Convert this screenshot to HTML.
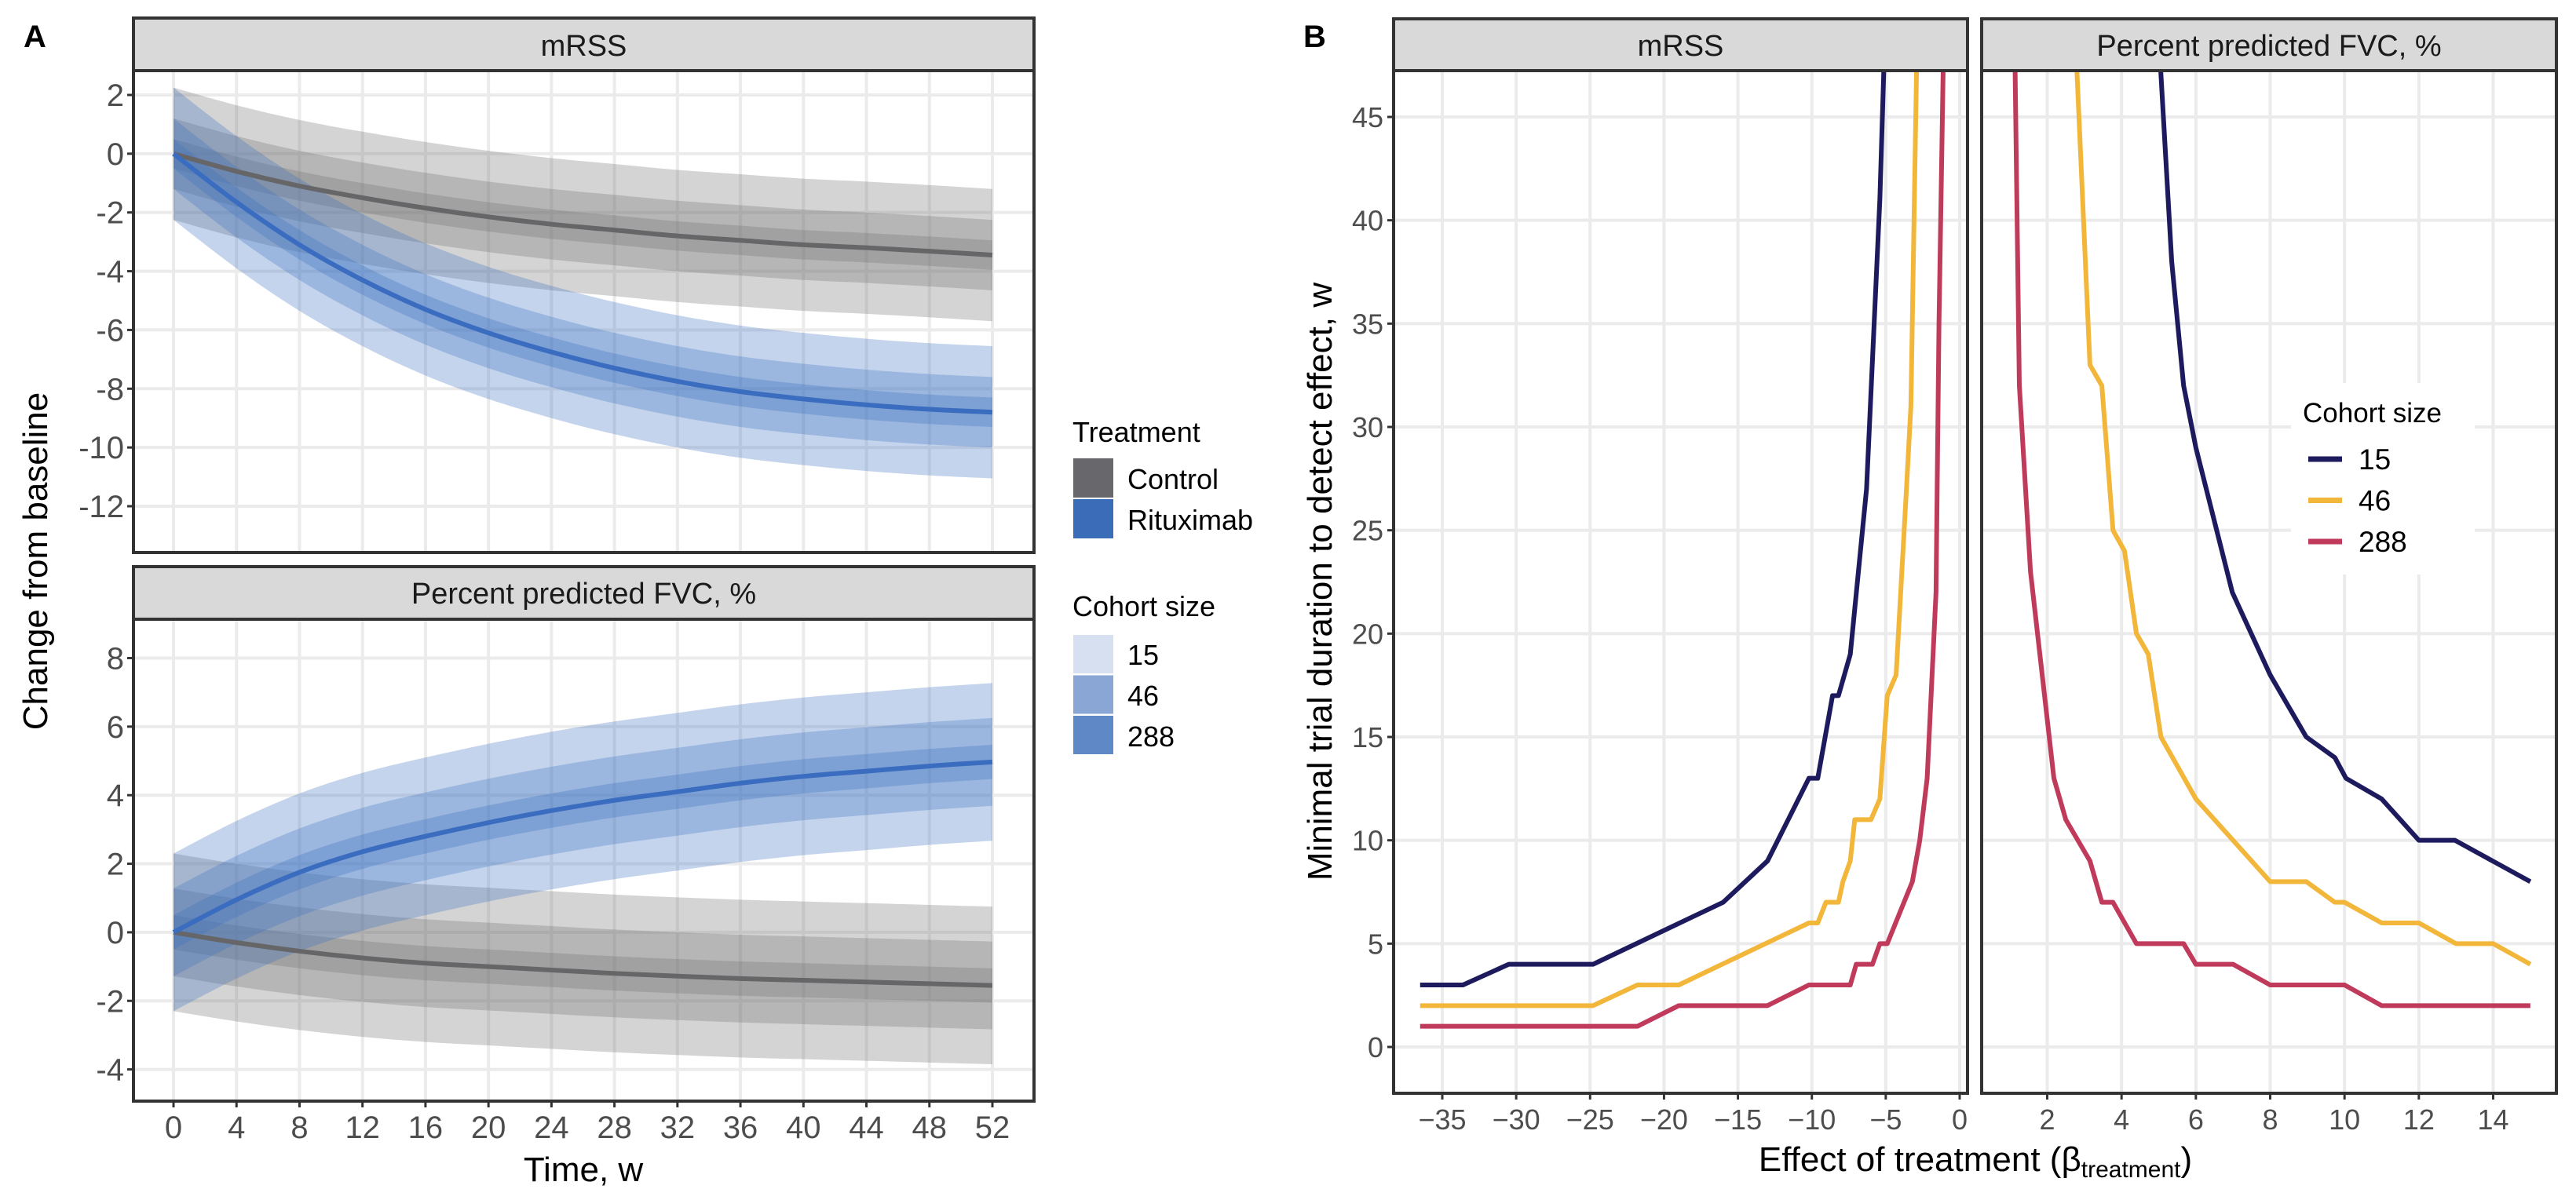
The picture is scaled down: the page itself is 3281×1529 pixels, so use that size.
<!DOCTYPE html>
<html><head><meta charset="utf-8"><style>
html,body{margin:0;padding:0;background:#fff}
svg{display:block}
.tk{font-family:"Liberation Sans Narrow","Liberation Sans",sans-serif;font-size:40px;fill:#4d4d4d}
.tkb{font-family:"Liberation Sans",sans-serif;font-size:36px;fill:#4d4d4d}
.st{font-family:"Liberation Sans Narrow","Liberation Sans",sans-serif;font-size:38px;fill:#1a1a1a}
.lg{font-family:"Liberation Sans",sans-serif;font-size:36px;fill:#000}
.ttl{font-family:"Liberation Sans",sans-serif;font-size:44px;fill:#000}
</style></head><body>
<svg id="fig" xmlns="http://www.w3.org/2000/svg" width="3281" height="1529" viewBox="0 0 3281 1529">
<rect x="0" y="0" width="3281" height="1529" fill="#fff"/>
<text x="30" y="60" style="font-family:'Liberation Sans',sans-serif;font-size:40px;font-weight:bold">A</text>
<text x="1660" y="60" style="font-family:'Liberation Sans',sans-serif;font-size:40px;font-weight:bold">B</text>
<g id="layer"></g>
</svg>
<script>
// ---------- Panel A data ----------
const weeks = [0,4,8,12,16,20,24,28,32,36,40,44,48,52];
const ctrlMrss = [0,-0.6,-1.1,-1.5,-1.85,-2.15,-2.4,-2.6,-2.8,-2.95,-3.1,-3.2,-3.32,-3.45];
const ritMrss = [0,-1.65,-3.1,-4.3,-5.3,-6.1,-6.75,-7.3,-7.75,-8.1,-8.35,-8.55,-8.7,-8.8];
const ctrlFvc = [0,-0.3,-0.55,-0.75,-0.9,-1.0,-1.1,-1.2,-1.28,-1.35,-1.4,-1.45,-1.5,-1.55];
const ritFvc = [0,0.95,1.75,2.35,2.8,3.2,3.55,3.85,4.1,4.35,4.55,4.7,4.85,4.97];
const cohorts = ["15","46","288"];
const halfMrss = [2.25,1.2,0.5];
const halfFvc = [2.3,1.28,0.5];
const mrssTicks = [2,0,-2,-4,-6,-8,-10,-12];
const fvcTicks = [8,6,4,2,0,-2,-4];
const weekTicks = [0,4,8,12,16,20,24,28,32,36,40,44,48,52];

// ---------- Panel B data ----------
const leftTicks = [-35,-30,-25,-20,-15,-10,-5,0];
const rightTicks = [2,4,6,8,10,12,14];
const durTicks = [0,5,10,15,20,25,30,35,40,45];
const mrssX15 = [-36.5,-33.6,-30.5,-24.8,-16,-13,-10.2,-9.6,-8.6,-8.2,-7.4,-6.3,-5.4,-5.1];
const mrssY15 = [3,3,4,4,7,9,13,13,17,17,19,27,41,48];
const mrssX46 = [-36.5,-24.8,-21.8,-19,-10.2,-9.6,-9.05,-8.2,-7.9,-7.4,-7.1,-6,-5.4,-4.9,-4.3,-3.6,-3.3,-2.9];
const mrssY46 = [2,2,3,3,6,6,7,7,8,9,11,11,12,17,18,27,31,48];
const mrssX288 = [-36.5,-21.8,-19,-13,-10.2,-7.4,-7,-5.9,-5.4,-4.9,-3.2,-2.7,-2.2,-1.6,-1.4,-1.1];
const mrssY288 = [1,1,2,2,3,3,4,4,5,5,8,10,13,22,35,48];
const fvcX15 = [5.03,5.35,5.67,6.0,6.98,8.0,8.97,9.74,10.04,11.0,12.0,12.97,15.0];
const fvcY15 = [48,38,32,29,22,18,15,14,13,12,10,10,8];
const fvcX46 = [2.78,3.15,3.47,3.77,4.08,4.4,4.72,5.06,6.0,8.0,8.97,9.74,10.0,11.0,12.0,13.0,14,15];
const fvcY46 = [48,33,32,25,24,20,19,15,12,8,8,7,7,6,6,5,5,4];
const fvcX288 = [1.13,1.25,1.55,2.18,2.5,3.15,3.47,3.77,4.4,5.67,6.0,7.0,8.0,10.0,11.0,15];
const fvcY288 = [48,32,23,13,11,9,7,7,5,5,4,4,3,3,2,2];

const NS = "http://www.w3.org/2000/svg";
const layer = document.getElementById("layer");
function mk(tag, attrs, parent){
  const e = document.createElementNS(NS, tag);
  for (const k in attrs) e.setAttribute(k, attrs[k]);
  (parent||layer).appendChild(e);
  return e;
}
function lin(d0,d1,r0,r1){ return v => r0 + (v-d0)*(r1-r0)/(d1-d0); }
function smoothPath(pts){
  let d = "M"+pts[0][0]+","+pts[0][1];
  for (let i=0;i<pts.length-1;i++){
    const p0=pts[Math.max(i-1,0)],p1=pts[i],p2=pts[i+1],p3=pts[Math.min(i+2,pts.length-1)];
    const c1=[p1[0]+(p2[0]-p0[0])/6,p1[1]+(p2[1]-p0[1])/6];
    const c2=[p2[0]-(p3[0]-p1[0])/6,p2[1]-(p3[1]-p1[1])/6];
    d+=" C"+c1[0]+","+c1[1]+" "+c2[0]+","+c2[1]+" "+p2[0]+","+p2[1];
  }
  return d;
}

// ---------- Panel A ----------
const AX = lin(0,52,221,1264);
const AL = 170, AR = 1317;
function panelA(name, top, bot, y, ticks, ctrl, rit, half, stripTop, stripBot){
  const g = mk("g",{});
  
  
  const bg = mk("rect",{x:AL,y:top,width:AR-AL,height:bot-top,fill:"#fff"},g);
  
  
  ticks.forEach(t=>{
    const gl = mk("line",{x1:AL,x2:AR,y1:y(t),y2:y(t),stroke:"#ebebeb","stroke-width":4},g);
    
    
    const tk = mk("line",{x1:AL-8,x2:AL,y1:y(t),y2:y(t),stroke:"#333","stroke-width":3},g);
    
    
    const lb = mk("text",{x:AL-12,y:y(t)+14,"text-anchor":"end",class:"tk"},g);
    
    
    lb.textContent = (t<0?"-":"")+Math.abs(t);
  });
  weekTicks.forEach(t=>{
    const gl = mk("line",{x1:AX(t),x2:AX(t),y1:top,y2:bot,stroke:"#ebebeb","stroke-width":4},g);
    
    
  });
  [[ctrl,"#707070","control"],[rit,"#3b6fc0","rituximab"]].forEach(([s,col,nm])=>{
    half.forEach((h,ci)=>{
      const up = weeks.map((w,i)=>[AX(w),y(s[i]+h)]);
      const lo = weeks.map((w,i)=>[AX(w),y(s[i]-h)]).reverse();
      const d = smoothPath(up)+" L"+smoothPath(lo).slice(1)+" Z";
      const p = mk("path",{d:d,fill:col,"fill-opacity":0.3,stroke:"none"},g);
      
      
    });
  });
  [[ctrl,"#666669","control"],[rit,"#3a6cc0","rituximab"]].forEach(([s,col,nm])=>{
    const p = mk("path",{d:smoothPath(weeks.map((w,i)=>[AX(w),y(s[i])])),fill:"none",stroke:col,"stroke-width":6},g);
    
    
  });
  const br = mk("rect",{x:AL,y:top,width:AR-AL,height:bot-top,fill:"none",stroke:"#333","stroke-width":4},g);
  
  
  const sr = mk("rect",{x:AL,y:stripTop,width:AR-AL,height:stripBot-stripTop,fill:"#d9d9d9",stroke:"#333","stroke-width":4},g);
  
  
  return g;
}
const yA1 = lin(2,-12,121,645);
const gA1 = panelA("mrss",90,704,yA1,mrssTicks,ctrlMrss,ritMrss,halfMrss,23,90);
const s1 = mk("text",{x:(AL+AR)/2,y:71,"text-anchor":"middle",class:"st"},gA1);


s1.textContent = "mRSS";
const yA2 = lin(8,-4,838.5,1362.6);
const gA2 = panelA("fvc",789,1403,yA2,fvcTicks,ctrlFvc,ritFvc,halfFvc,722,789);
const s2 = mk("text",{x:(AL+AR)/2,y:769,"text-anchor":"middle",class:"st"},gA2);


s2.textContent = "Percent predicted FVC, %";
weekTicks.forEach(t=>{
  const tk = mk("line",{x1:AX(t),x2:AX(t),y1:1403,y2:1411,stroke:"#333","stroke-width":3});
  
  
  const lb = mk("text",{x:AX(t),y:1450,"text-anchor":"middle",class:"tk"});
  
  
  lb.textContent = t;
});
const xtA = mk("text",{x:743,y:1505,"text-anchor":"middle",class:"st",style:"font-size:44px;fill:#000"});


xtA.textContent = "Time, w";
const ytA = mk("text",{x:0,y:0,"text-anchor":"middle",class:"ttl",transform:"translate(60,715) rotate(-90)"});


ytA.textContent = "Change from baseline";

// Legend A
const lgA = mk("g",{});


const lt1 = mk("text",{x:1366,y:563,class:"lg"},lgA);


lt1.textContent = "Treatment";
const treatNames = ["Control","Rituximab"];
const treatCols = ["#68686c","#3b6cb8"];
treatNames.forEach((n,i)=>{
  const r = mk("rect",{x:1367,y:584+i*52,width:51,height:50,fill:treatCols[i]},lgA);
  
  
  const t = mk("text",{x:1436,y:623+i*52,class:"lg"},lgA);
  
  
  t.textContent = n;
});
const lt2 = mk("text",{x:1366,y:785,class:"lg"},lgA);


lt2.textContent = "Cohort size";
const cohortCols = ["#d6e0f0","#8aa6d4","#5f88c6"];
cohorts.forEach((c,i)=>{
  const r = mk("rect",{x:1367,y:809+i*51.5,width:51,height:49,fill:cohortCols[i]},lgA);
  
  
  const t = mk("text",{x:1436,y:847+i*52,class:"lg"},lgA);
  
  
  t.textContent = c;
});

// ---------- Panel B ----------
const BT = 90, BB = 1393;
const yB = lin(0,45,1334,149);
const lineCols = ["#1d1b5e","#f2b73a","#c03b5b"];
function panelB(name, L, R, x, ticks, xs, ys, label){
  const g = mk("g",{});
  
  
  const cid = "clip-"+name;
  const cp = mk("clipPath",{id:cid},g);
  mk("rect",{x:L,y:BT,width:R-L,height:BB-BT},cp);
  durTicks.forEach(t=>{
    const gl = mk("line",{x1:L,x2:R,y1:yB(t),y2:yB(t),stroke:"#ebebeb","stroke-width":4},g);
    
    
  });
  ticks.forEach(t=>{
    const gl = mk("line",{x1:x(t),x2:x(t),y1:BT,y2:BB,stroke:"#ebebeb","stroke-width":4},g);
    
    
    const tk = mk("line",{x1:x(t),x2:x(t),y1:BB,y2:BB+8,stroke:"#333","stroke-width":3},g);
    
    
    const lb = mk("text",{x:x(t),y:BB+46,"text-anchor":"middle",class:"tkb"},g);
    
    
    lb.textContent = (t<0?"\u2212":"")+Math.abs(t);
  });
  const lg = mk("g",{"clip-path":"url(#"+cid+")"},g);
  xs.forEach((arr,ci)=>{
    const pts = arr.map((v,i)=>x(v)+","+yB(ys[ci][i])).join(" ");
    const pl = mk("polyline",{points:pts,fill:"none",stroke:lineCols[ci],"stroke-width":6,"stroke-linejoin":"round"},lg);
    
    
  });
  const br = mk("rect",{x:L,y:BT,width:R-L,height:BB-BT,fill:"none",stroke:"#333","stroke-width":4},g);
  
  
  const sr = mk("rect",{x:L,y:24,width:R-L,height:66,fill:"#d9d9d9",stroke:"#333","stroke-width":4},g);
  
  
  const st = mk("text",{x:(L+R)/2,y:71,"text-anchor":"middle",class:"st"},g);
  
  
  st.textContent = label;
}
panelB("mrss-b",1775,2506,lin(-35,0,1837,2496),leftTicks,[mrssX15,mrssX46,mrssX288],[mrssY15,mrssY46,mrssY288],"mRSS");
panelB("fvc-b",2524,3256,lin(2,14,2607.5,3175.5),rightTicks,[fvcX15,fvcX46,fvcX288],[fvcY15,fvcY46,fvcY288],"Percent predicted FVC, %");
durTicks.forEach(t=>{
  const tk = mk("line",{x1:1767,x2:1775,y1:yB(t),y2:yB(t),stroke:"#333","stroke-width":3});
  
  
  const lb = mk("text",{x:1762,y:yB(t)+13,"text-anchor":"end",class:"tkb"});
  
  
  lb.textContent = t;
});
const ytB = mk("text",{x:0,y:0,"text-anchor":"middle",class:"ttl",transform:"translate(1696,741) rotate(-90)"});


ytB.textContent = "Minimal trial duration to detect effect, w";
const xtB = mk("text",{x:2516,y:1492,"text-anchor":"middle",class:"ttl"});


xtB.innerHTML = 'Effect of treatment (\u03b2<tspan dy="8" style="font-size:30px">treatment</tspan><tspan dy="-8">)</tspan>';

// Legend B
const lgB = mk("g",{});


const lbg = mk("rect",{x:2918,y:488,width:234,height:244,fill:"#fff"},lgB);


const ltb = mk("text",{x:2933,y:538,class:"lg",style:"font-size:35px"},lgB);


ltb.textContent = "Cohort size";
cohorts.forEach((c,i)=>{
  const k = mk("line",{x1:2940,x2:2983,y1:585+i*52.5,y2:585+i*52.5,stroke:lineCols[i],"stroke-width":7},lgB);
  
  
  const t = mk("text",{x:3004,y:598+i*52.5,class:"lg",style:"font-size:37px"},lgB);
  
  
  t.textContent = c;
});
</script>
</body></html>
